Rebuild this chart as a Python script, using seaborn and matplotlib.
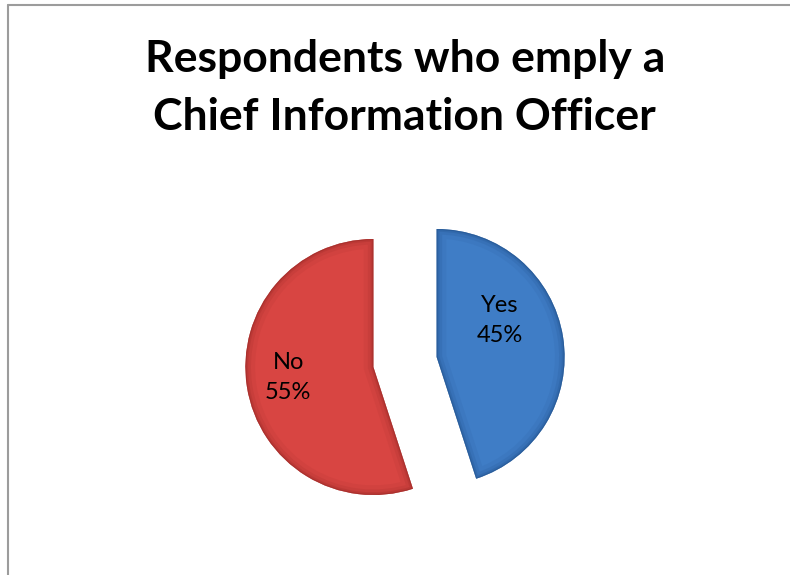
import numpy as np
import matplotlib
matplotlib.use("Agg")
import matplotlib.pyplot as plt
from matplotlib.patches import Wedge
from matplotlib.lines import Line2D
import seaborn as sns

# Survey answers
categories = ["Yes", "No"]
shares = [45, 55]
title_lines = ["Respondents who emply a", "Chief Information Officer"]

sns.set_theme(style="white")
plt.rcParams["font.family"] = ["Lato", "DejaVu Sans"]

fill_colors = ["#3f7dc6", "#d84542"]
edge_colors = ["#23528c", "#9a2a27"]

fig = plt.figure(figsize=(7.9, 5.75), dpi=100)
fig.patch.set_facecolor("white")

# pie axes: 1 data unit == pie radius
ax = fig.add_axes([213 / 790, 21 / 575, 384 / 790, 384 / 575])
wedges, _ = ax.pie(
    shares,
    colors=fill_colors,
    startangle=90,
    counterclock=False,
    explode=[0.25, 0.25],
    radius=1.0,
    wedgeprops=dict(linewidth=0),
)
ax.set_xlim(-1.5, 1.5)
ax.set_ylim(-1.5, 1.5)
ax.set_aspect("equal")
ax.axis("off")

# soft bevel: darker strokes clipped to each wedge
for w, ec in zip(wedges, edge_colors):
    for lw, a in [(14, 0.10), (8, 0.16), (4, 0.25), (1.6, 0.55)]:
        s = Wedge(w.center, w.r, w.theta1, w.theta2, facecolor="none",
                  edgecolor=ec, linewidth=lw, alpha=a)
        ax.add_patch(s)
        s.set_clip_path(w)

# data labels inside the slices
label_pos = {"Yes": (30.0, 0.57), "No": (187.0, 0.67)}
for w, cat, val in zip(wedges, categories, shares):
    ang, dist = label_pos[cat]
    cx, cy = w.center
    x = cx + dist * np.cos(np.radians(ang))
    y = cy + dist * np.sin(np.radians(ang))
    ax.text(x, y, f"{cat}\n{val}%", ha="center", va="center",
            fontsize=17, color="black", linespacing=1.55)

# title
fig.text(405 / 790, 1 - 72 / 575, title_lines[0], ha="center", va="baseline",
         fontsize=32, fontweight="bold", color="black")
fig.text(404 / 790, 1 - 130 / 575, title_lines[1], ha="center", va="baseline",
         fontsize=32, fontweight="bold", color="black")

# frame lines on top and left
fig.add_artist(Line2D([8 / 790, 1], [1 - 5 / 575, 1 - 5 / 575],
                      transform=fig.transFigure, color="#9c9c9c", linewidth=1.5))
fig.add_artist(Line2D([8 / 790, 8 / 790], [0, 1 - 5 / 575],
                      transform=fig.transFigure, color="#9c9c9c", linewidth=1.5))

fig.savefig("out.png", dpi=100, facecolor="white")
